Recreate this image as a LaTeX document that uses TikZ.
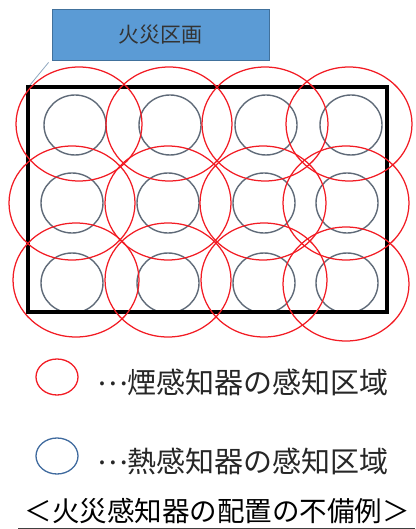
\documentclass[tikz,border=0pt]{standalone}
\usepackage{fontspec}
\newfontfamily\jp{Noto Sans CJK JP}
\definecolor{boxfill}{HTML}{5B9BD5}
\definecolor{boxline}{HTML}{41719C}
\definecolor{heatgray}{HTML}{5F6A78}
\definecolor{smokered}{HTML}{F21C24}
\definecolor{legblue}{HTML}{3F6A9E}
\definecolor{leader}{HTML}{8FA7BF}
\tikzset{
  heat/.style={draw=heatgray, line width=1.4pt},
  smoke/.style={draw=smokered, line width=1.25pt},
  legtext/.style={anchor=west, font=\jp\fontsize{29}{31}\selectfont, text=black!85, inner sep=0pt},
}
\newcommand{\middots}{\makebox[30pt][l]{\raisebox{8pt}{…}}}
\begin{document}
\begin{tikzpicture}[x=1pt,y=-1pt]
\useasboundingbox (0,0) rectangle (415,529);
% title box
\node[draw=boxline, fill=boxfill, line width=0.8pt, minimum width=217pt, minimum height=51pt, inner sep=0pt,
      font=\jp\fontsize{21}{23}\selectfont, text=black!80] (box) at (160.5,34.5) {火災区画};
\coordinate (lead) at (30,85);
\draw[leader, line width=0.8pt] (box.south west) ++(-3,2) -- (lead);
% heat detector areas
\foreach \x/\y in {75/125,170/125,266/125,351/125,
                   72/203,168/203,264/203,347/203,
                   72/283,168/283,264/283,347/283}
  \draw[heat] (\x,\y) ellipse [x radius=31, y radius=30];
% room outline
\draw[line width=3.2pt] (28,87) rectangle (387,312);
% smoke detector areas
\foreach \x/\y in {79/124,169/124,265/124,349/124,
                   72/203,168/203,263/203,346/203,
                   76/280,168/280,264/280,346/284}
  \draw[smoke] (\x,\y) ellipse [x radius=63, y radius=57];
% legend
\draw[draw=smokered, line width=1.3pt] (57,377) ellipse [x radius=21, y radius=18];
\node[legtext] (l1) at (97,382) {\middots 煙感知器の感知区域};
\draw[draw=legblue, line width=1.3pt] (57,456) ellipse [x radius=21, y radius=18];
\node[legtext] (l2) at (97,461) {\middots 熱感知器の感知区域};
% caption
\node[font=\jp\fontsize{27.5}{29}\selectfont, inner sep=0pt] (cap) at (217,511) {＜火災感知器の配置の不備例＞};
\draw[line width=0.8pt, black!75] (18,528) -- (415,528);
\end{tikzpicture}
\end{document}
